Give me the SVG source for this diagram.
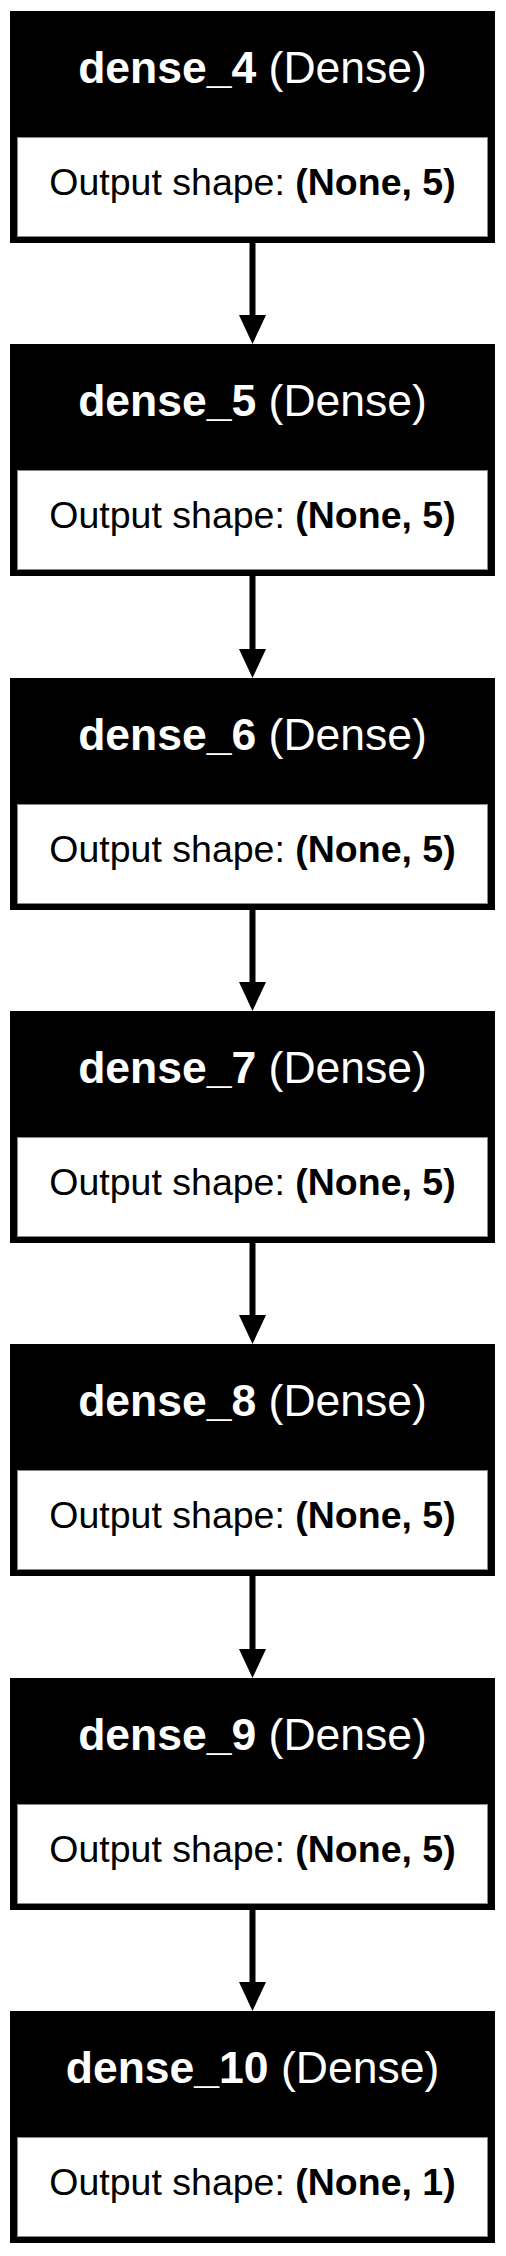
<svg xmlns="http://www.w3.org/2000/svg" width="506" height="2256" viewBox="0 0 506 2256">
<style>
.outer{fill:#000;}
.inner{fill:#fff;stroke:#888;stroke-width:1;}
.title{font-family:"Liberation Sans",Arial,sans-serif;font-size:44.5px;fill:#fff;text-anchor:middle;}
.out{font-family:"Liberation Sans",Arial,sans-serif;font-size:37.5px;fill:#000;text-anchor:middle;}
.b{font-weight:bold;}
.edge{stroke:#000;stroke-width:6;fill:none;marker-end:url(#ah);}
</style>
<defs>
<marker id="ah" markerUnits="userSpaceOnUse" viewBox="0 0 29 27" refX="0" refY="13.5" markerWidth="29" markerHeight="27" orient="auto">
<path d="M0,0 L29,13.5 L0,27 z" fill="#000"/>
</marker>
</defs>
<rect width="506" height="2256" fill="#fff"/>
<g id="connectors">
<line class="edge" x1="252.5" y1="243" x2="252.5" y2="315"/>
<line class="edge" x1="252.5" y1="576" x2="252.5" y2="649"/>
<line class="edge" x1="252.5" y1="910" x2="252.5" y2="982"/>
<line class="edge" x1="252.5" y1="1243" x2="252.5" y2="1315"/>
<line class="edge" x1="252.5" y1="1576" x2="252.5" y2="1649"/>
<line class="edge" x1="252.5" y1="1910" x2="252.5" y2="1982"/>
</g>
<g id="dense_4" transform="translate(0,11)">
<rect class="outer" x="10" y="0" width="485" height="232"/>
<rect class="inner" x="17.5" y="126.5" width="470" height="99"/>
<text class="title" x="252.5" y="72"><tspan class="b">dense_4</tspan> (Dense)</text>
<text class="out" x="252.5" y="184">Output shape: <tspan class="b">(None, 5)</tspan></text>
</g>
<g id="dense_5" transform="translate(0,344)">
<rect class="outer" x="10" y="0" width="485" height="232"/>
<rect class="inner" x="17.5" y="126.5" width="470" height="99"/>
<text class="title" x="252.5" y="72"><tspan class="b">dense_5</tspan> (Dense)</text>
<text class="out" x="252.5" y="184">Output shape: <tspan class="b">(None, 5)</tspan></text>
</g>
<g id="dense_6" transform="translate(0,678)">
<rect class="outer" x="10" y="0" width="485" height="232"/>
<rect class="inner" x="17.5" y="126.5" width="470" height="99"/>
<text class="title" x="252.5" y="72"><tspan class="b">dense_6</tspan> (Dense)</text>
<text class="out" x="252.5" y="184">Output shape: <tspan class="b">(None, 5)</tspan></text>
</g>
<g id="dense_7" transform="translate(0,1011)">
<rect class="outer" x="10" y="0" width="485" height="232"/>
<rect class="inner" x="17.5" y="126.5" width="470" height="99"/>
<text class="title" x="252.5" y="72"><tspan class="b">dense_7</tspan> (Dense)</text>
<text class="out" x="252.5" y="184">Output shape: <tspan class="b">(None, 5)</tspan></text>
</g>
<g id="dense_8" transform="translate(0,1344)">
<rect class="outer" x="10" y="0" width="485" height="232"/>
<rect class="inner" x="17.5" y="126.5" width="470" height="99"/>
<text class="title" x="252.5" y="72"><tspan class="b">dense_8</tspan> (Dense)</text>
<text class="out" x="252.5" y="184">Output shape: <tspan class="b">(None, 5)</tspan></text>
</g>
<g id="dense_9" transform="translate(0,1678)">
<rect class="outer" x="10" y="0" width="485" height="232"/>
<rect class="inner" x="17.5" y="126.5" width="470" height="99"/>
<text class="title" x="252.5" y="72"><tspan class="b">dense_9</tspan> (Dense)</text>
<text class="out" x="252.5" y="184">Output shape: <tspan class="b">(None, 5)</tspan></text>
</g>
<g id="dense_10" transform="translate(0,2011)">
<rect class="outer" x="10" y="0" width="485" height="232"/>
<rect class="inner" x="17.5" y="126.5" width="470" height="99"/>
<text class="title" x="252.5" y="72"><tspan class="b">dense_10</tspan> (Dense)</text>
<text class="out" x="252.5" y="184">Output shape: <tspan class="b">(None, 1)</tspan></text>
</g>
</svg>
